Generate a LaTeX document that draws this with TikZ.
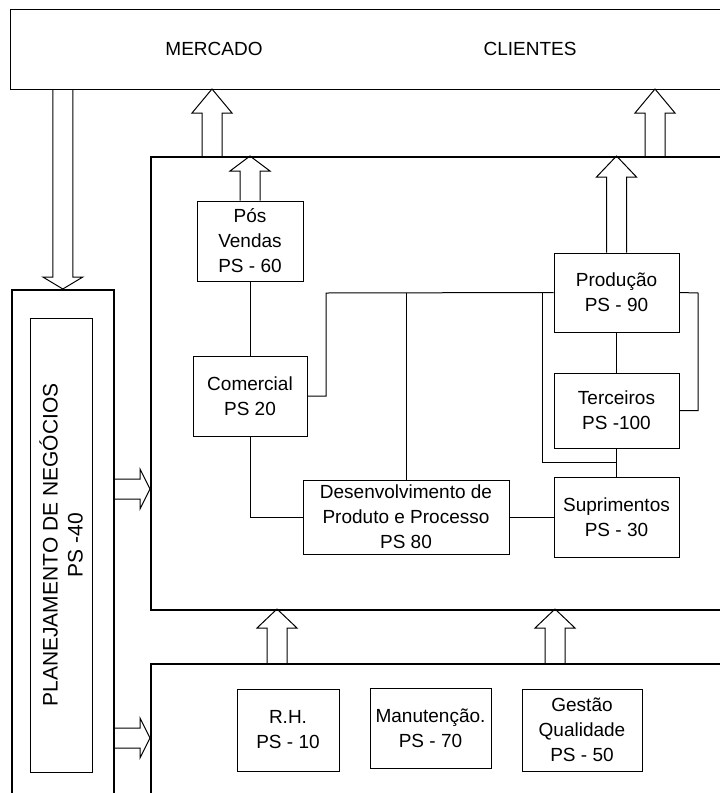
\documentclass[tikz,border=0pt]{standalone}
\usepackage{fontspec}
\setmainfont{Liberation Sans}
\usetikzlibrary{calc}

% hollow block arrow: #1 head length, #2 start, #3 tip
\newcommand{\blockarrow}[3]{%
  \coordinate (hb) at ($(#3)!#1pt!(#2)$);
  \draw ($(#2)!10pt!90:(#3)$) -- ($(hb)!10pt!90:(#3)$) -- ($(hb)!20pt!90:(#3)$) -- (#3)
    -- ($(hb)!20pt!-90:(#3)$) -- ($(hb)!10pt!-90:(#3)$) -- ($(#2)!10pt!-90:(#3)$);}

\begin{document}
\begin{tikzpicture}[x=1pt,y=-1pt,line width=1pt,
  every node/.style={font=\fontsize{19}{25}\selectfont},
  box/.style={draw,line width=1pt,align=center,inner sep=0pt},
  frame/.style={draw,line width=1.7pt,anchor=north west,inner sep=0pt}]
\useasboundingbox (0,0) rectangle (720,793);
\clip (0,0) rectangle (720,793);
% outer frames
\node[draw,line width=1.2pt,anchor=north west,minimum width=760,minimum height=80] (top) at (10,9) {};
\node (merc) at (214,49) {MERCADO};
\node (cli) at (530,49) {CLIENTES};
\node[frame,minimum width=102,minimum height=560] (left) at (11,289) {};
\node[box,rotate=90,minimum width=454,minimum height=62,font=\fontsize{21}{25}\selectfont] (plan) at (61,545) {PLANEJAMENTO DE NEGÓCIOS\\PS -40};
\node[frame,minimum width=620,minimum height=453] (main) at (150,156) {};
\node[frame,minimum width=620,minimum height=200] (apoio) at (150,663) {};
% process boxes
\node[box,minimum width=106,minimum height=80] (pos) at (250,241) {Pós\\Vendas\\PS - 60};
\node[box,minimum width=125,minimum height=79] (prod) at (616.5,292.5) {Produção\\PS - 90};
\node[box,minimum width=114,minimum height=80] (com) at (250,396) {Comercial\\PS 20};
\node[box,minimum width=125,minimum height=75] (terc) at (616.5,410.5) {Terceiros\\PS -100};
\node[box,minimum width=206,minimum height=74] (desenv) at (406,517) {Desenvolvimento de\\Produto e Processo\\PS 80};
\node[box,minimum width=125,minimum height=80] (supr) at (616.5,517) {Suprimentos\\PS - 30};
\node[box,minimum width=102,minimum height=82] (rh) at (288,730) {R.H.\\PS - 10};
\node[box,minimum width=121,minimum height=80] (manut) at (430.5,728) {Manutenção.\\PS - 70};
\node[box,minimum width=120,minimum height=82] (gestao) at (582,730) {Gestão\\Qualidade\\PS - 50};
% lines
\coordinate (j1) at (326,293);
\coordinate (j2) at (698,293);
\coordinate (j3) at (542,293);
\coordinate (j4) at (617,462);
\draw (pos) -- (com);
\draw (com.east) -| (j1) -- (prod.west);
\draw (desenv.north) -- (desenv.north |- j1);
\draw (j3) |- (j4);
\draw (prod) -- (terc); \draw (terc) -- (supr);
\draw (terc.east) -| (j2) -- (prod.east);
\draw (com.south) |- (desenv.west);
\draw (desenv) -- (supr);
% block arrows
\coordinate (m1) at (212,156); \coordinate (m1t) at (212,89);
\coordinate (m2) at (655,156); \coordinate (m2t) at (655,89);
\coordinate (s1) at (277,663); \coordinate (s1t) at (277,609);
\coordinate (s2) at (555,663); \coordinate (s2t) at (555,609);
\coordinate (r1) at (113,489); \coordinate (r1t) at (150,489);
\coordinate (r2) at (113,738); \coordinate (r2t) at (150,738);
\blockarrow{12}{left.north |- top.south}{left.north}
\blockarrow{24}{m1}{m1t}
\blockarrow{24}{m2}{m2t}
\blockarrow{15}{pos.north}{pos.north |- main.north}
\blockarrow{21}{prod.north}{prod.north |- main.north}
\blockarrow{19}{s1}{s1t}
\blockarrow{19}{s2}{s2t}
\blockarrow{10}{r1}{r1t}
\blockarrow{10}{r2}{r2t}
\end{tikzpicture}
\end{document}
